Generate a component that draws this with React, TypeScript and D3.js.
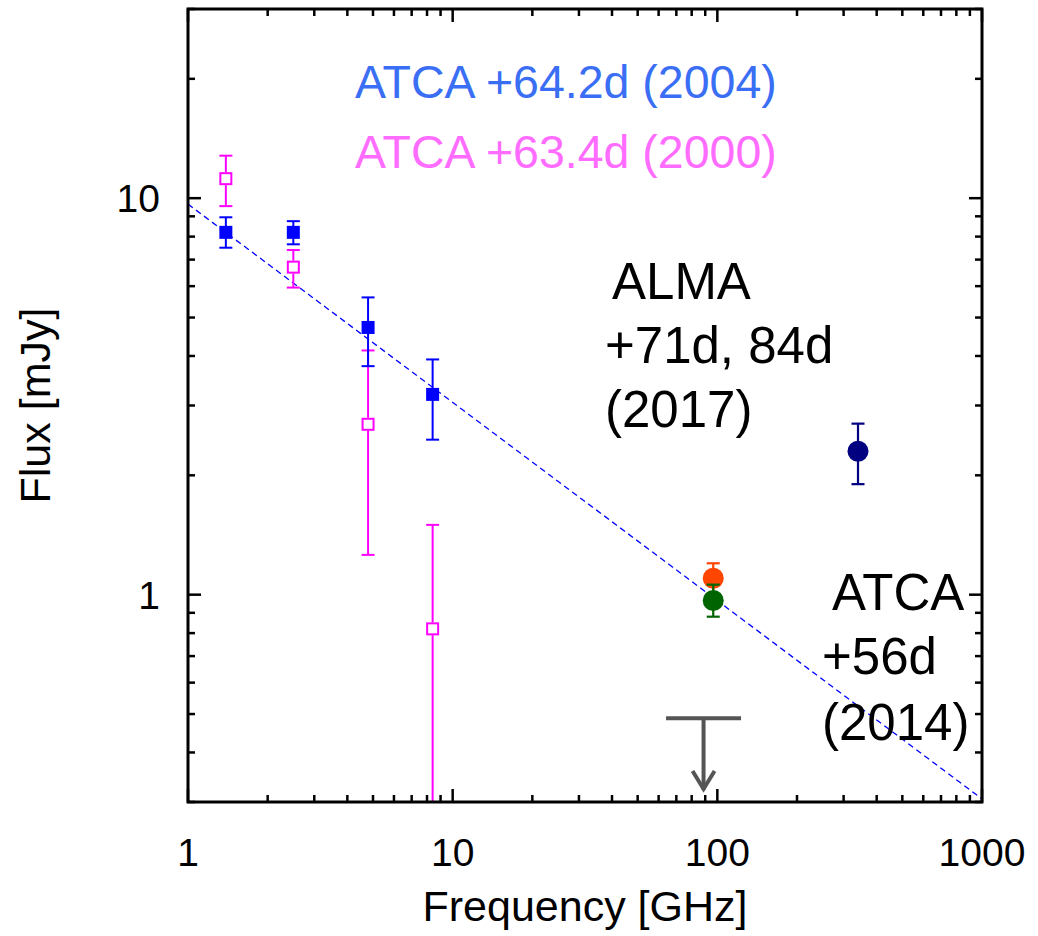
import React from "react";
import * as d3 from "d3";

// ---- data ----
// ATCA +64.2d (2004): filled blue squares
const atca2004Freq = [1.39, 2.5, 4.79, 8.4];
const atca2004Flux = [8.2, 8.2, 4.72, 3.2];
const atca2004Hi = [8.95, 8.75, 5.62, 3.92];
const atca2004Lo = [7.5, 7.65, 3.77, 2.46];

// ATCA +63.4d (2000): open magenta squares
const atca2000Freq = [1.39, 2.5, 4.79, 8.4];
const atca2000Flux = [11.2, 6.7, 2.69, 0.82];
const atca2000Hi = [12.8, 7.4, 4.13, 1.5];
const atca2000Lo = [9.55, 5.95, 1.26, 0.1];

// ALMA & ATCA 2014 circles
const circleNames = ["ALMA 340", "ALMA 97 (71d)", "ATCA 97 (56d)"];
const circleFreq = [340, 96.5, 96.5];
const circleFlux = [2.3, 1.1, 0.967];
const circleHi = [2.7, 1.2, 1.06];
const circleLo = [1.9, 1.0, 0.88];
const circleColors = ["#000080", "#ff4500", "#006400"];

// upper limit
const limitFreq = [88.7];
const limitFlux = [0.488];
const limitArrowTo = [0.318];

// power-law fit: F = A * nu^alpha
const fitAmp = 9.66;
const fitAlpha = -0.5;

const xTickValues = [1, 10, 100, 1000];
const xTickLabels = ["1", "10", "100", "1000"];
const yTickValues = [1, 10];
const yTickLabels = ["1", "10"];
const yMinorValues = [0.3, 0.4, 0.5, 0.6, 0.7, 0.8, 0.9, 2, 3, 4, 5, 6, 7, 8, 9, 20, 30];

const FONT = "'Liberation Sans', Arial, Helvetica, sans-serif";

export default function App() {
  const left = 188, right = 982, top = 9, bottom = 802;
  const x = d3.scaleLog().domain([1, 1000]).range([left, right]);
  const y = d3.scaleLog().domain([0.3, 30]).range([bottom, top]);

  const xMinor: number[] = [];
  for (const dec of [1, 10, 100]) for (let k = 2; k <= 9; k++) xMinor.push(dec * k);

  const fitLine = d3
    .line<number>()
    .x((f) => x(f))
    .y((f) => y(fitAmp * Math.pow(f, fitAlpha)));
  const fitFreqs = [1, 1000];

  const majorLen = 13, minorLen = 7;
  const tickW = 2.5;

  const sq = 13;
  const cap = 6.5;

  return (
    <svg
      width={1038}
      height={936}
      style={{ position: "absolute", left: 0, top: 0, background: "#fff" }}
      fontFamily={FONT}
    >
      <defs>
        <clipPath id="plotClip">
          <rect x={left} y={top} width={right - left} height={bottom - top} />
        </clipPath>
      </defs>

      {/* fit line */}
      <path
        d={fitLine(fitFreqs) || ""}
        stroke="#0000ff"
        strokeWidth={1.3}
        strokeDasharray="6,4"
        fill="none"
        clipPath="url(#plotClip)"
      />

      {/* ATCA 2000 magenta open squares */}
      <g clipPath="url(#plotClip)" stroke="#ff00ff" strokeWidth={2} fill="none">
        {atca2000Freq.map((f, i) => (
          <g key={"m" + i}>
            <line x1={x(f)} x2={x(f)} y1={y(atca2000Hi[i])} y2={y(atca2000Flux[i]) - sq / 2} />
            <line x1={x(f)} x2={x(f)} y1={y(atca2000Flux[i]) + sq / 2} y2={y(atca2000Lo[i])} />
            <line x1={x(f) - cap} x2={x(f) + cap} y1={y(atca2000Hi[i])} y2={y(atca2000Hi[i])} />
            <line x1={x(f) - cap} x2={x(f) + cap} y1={y(atca2000Lo[i])} y2={y(atca2000Lo[i])} />
            <rect x={x(f) - sq / 2 + 1} y={y(atca2000Flux[i]) - sq / 2 + 1} width={sq - 2} height={sq - 2} fill="#fff" />
          </g>
        ))}
      </g>

      {/* ATCA 2004 blue filled squares */}
      <g stroke="#0000ff" strokeWidth={2}>
        {atca2004Freq.map((f, i) => (
          <g key={"b" + i}>
            <line x1={x(f)} x2={x(f)} y1={y(atca2004Hi[i])} y2={y(atca2004Lo[i])} />
            <line x1={x(f) - cap} x2={x(f) + cap} y1={y(atca2004Hi[i])} y2={y(atca2004Hi[i])} />
            <line x1={x(f) - cap} x2={x(f) + cap} y1={y(atca2004Lo[i])} y2={y(atca2004Lo[i])} />
            <rect x={x(f) - sq / 2} y={y(atca2004Flux[i]) - sq / 2} width={sq} height={sq} fill="#0000ff" stroke="none" />
          </g>
        ))}
      </g>

      {/* circles */}
      {circleFreq.map((f, i) => (
        <g key={circleNames[i]} stroke={circleColors[i]} strokeWidth={2.2}>
          <line x1={x(f)} x2={x(f)} y1={y(circleHi[i])} y2={y(circleLo[i])} />
          <line x1={x(f) - cap} x2={x(f) + cap} y1={y(circleHi[i])} y2={y(circleHi[i])} />
          <line x1={x(f) - cap} x2={x(f) + cap} y1={y(circleLo[i])} y2={y(circleLo[i])} />
          <circle cx={x(f)} cy={y(circleFlux[i])} r={10.5} fill={circleColors[i]} stroke="none" />
        </g>
      ))}

      {/* upper limit */}
      {limitFreq.map((f, i) => {
        const cx = x(f);
        const y0 = y(limitFlux[i]);
        const y1 = y(limitArrowTo[i]);
        return (
          <g key={"lim" + i} stroke="#555555" strokeWidth={4} fill="none">
            <line x1={cx - 37.5} x2={cx + 37.5} y1={y0} y2={y0} />
            <line x1={cx} x2={cx} y1={y0} y2={y1 - 2} />
            <polyline points={`${cx - 11},${y1 - 21} ${cx},${y1 - 3} ${cx + 11},${y1 - 21}`} strokeLinejoin="miter" />
          </g>
        );
      })}

      {/* frame */}
      <rect x={left} y={top} width={right - left} height={bottom - top} fill="none" stroke="#000" strokeWidth={3} />

      {/* x ticks (bottom & top) */}
      <g stroke="#000" strokeWidth={tickW}>
        {xTickValues.map((v) => (
          <g key={"xt" + v}>
            <line x1={x(v)} x2={x(v)} y1={bottom} y2={bottom - majorLen} />
            <line x1={x(v)} x2={x(v)} y1={top} y2={top + majorLen} />
          </g>
        ))}
        {xMinor.map((v) => (
          <g key={"xm" + v}>
            <line x1={x(v)} x2={x(v)} y1={bottom} y2={bottom - minorLen} />
            <line x1={x(v)} x2={x(v)} y1={top} y2={top + minorLen} />
          </g>
        ))}
        {yTickValues.map((v) => (
          <g key={"yt" + v}>
            <line x1={left} x2={left + majorLen} y1={y(v)} y2={y(v)} />
            <line x1={right} x2={right - majorLen} y1={y(v)} y2={y(v)} />
          </g>
        ))}
        {yMinorValues.map((v) => (
          <g key={"ym" + v}>
            <line x1={left} x2={left + minorLen} y1={y(v)} y2={y(v)} />
            <line x1={right} x2={right - minorLen} y1={y(v)} y2={y(v)} />
          </g>
        ))}
      </g>

      {/* tick labels */}
      <g fontSize={39} fill="#000">
        {xTickValues.map((v, i) => (
          <text key={"xl" + v} x={x(v)} y={866} textAnchor="middle">
            {xTickLabels[i]}
          </text>
        ))}
        {yTickValues.map((v, i) => (
          <text key={"yl" + v} x={160} y={y(v) + 14} textAnchor="end">
            {yTickLabels[i]}
          </text>
        ))}
      </g>

      {/* axis titles */}
      <text x={(left + right) / 2} y={921} textAnchor="middle" fontSize={43} fill="#000">
        Frequency [GHz]
      </text>
      <text
        transform={`translate(50, ${(top + bottom) / 2}) rotate(-90)`}
        textAnchor="middle"
        fontSize={43}
        fill="#000"
      >
        Flux [mJy]
      </text>

      {/* legend-like labels */}
      <text x={355} y={98} fontSize={46.5} fill="#3a6ef5">
        ATCA +64.2d (2004)
      </text>
      <text x={355} y={168} fontSize={46.5} fill="#ff6cff">
        ATCA +63.4d (2000)
      </text>

      <g fontSize={51} fill="#000">
        <text x={612} y={299}>ALMA</text>
        <text x={605} y={363}>+71d, 84d</text>
        <text x={605} y={427}>(2017)</text>
        <text x={832} y={610}>ATCA</text>
        <text x={822} y={674}>+56d</text>
        <text x={822} y={740}>(2014)</text>
      </g>
    </svg>
  );
}
